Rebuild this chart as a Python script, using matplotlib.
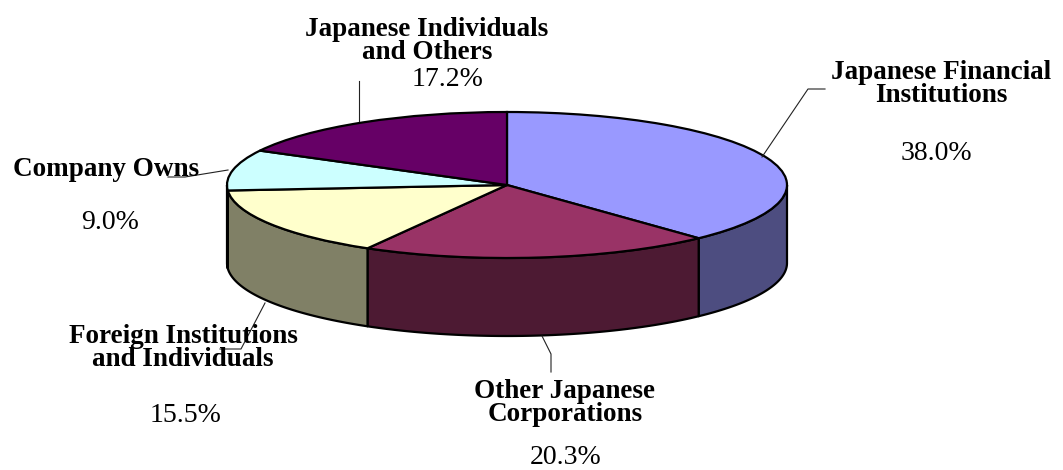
import numpy as np
import matplotlib
matplotlib.use("Agg")
import matplotlib.pyplot as plt
from matplotlib.colors import to_rgb

plt.rcParams["font.family"] = ["Liberation Serif", "DejaVu Serif"]

# clockwise from 12 o'clock
categories = ["Japanese Financial\nInstitutions", "Other Japanese\nCorporations",
              "Foreign Institutions\nand Individuals", "Company Owns",
              "Japanese Individuals\nand Others"]
values = [38.0, 20.3, 15.5, 9.0, 17.2]
percent_labels = ["38.0%", "20.3%", "15.5%", "9.0%", "17.2%"]
colors = ["#9999FF", "#993366", "#FFFFCC", "#CCFFFF", "#660066"]

W, H = 1063, 470
cx, cy, rx, ry, depth = 507, 185, 280, 73, 78

# pixel positions of the labels and leader lines
name_pos = [(941, 84), (565, 403), (183, 348), (106, 169), (427, 41)]
pct_pos = [(936, 153), (566, 457), (186, 415), (110, 223), (448, 80)]
leaders = [
    [(825, 89), (808, 89), (762, 157)],
    [(542, 336), (551, 354), (551, 372)],
    [(220, 349), (241, 349), (265, 303)],
    [(168, 177), (185, 177), (228, 170)],
    [(359, 81), (359, 121)],
]

fig = plt.figure(figsize=(W / 100, H / 100), dpi=100)
ax = fig.add_axes([0, 0, 1, 1])

# side wall, the part of each slice facing the viewer
d = depth / ry
edges = np.cumsum([0] + values) / sum(values) * 360
for i in range(len(values)):
    a0, a1 = max(edges[i], 90), min(edges[i + 1], 270)
    if a1 <= a0:
        continue
    t = np.radians(np.linspace(a0, a1, 100))
    xs = np.sin(t)
    ys = np.cos(t)
    dark = tuple(c * 0.5 for c in to_rgb(colors[i]))
    ax.fill(np.r_[xs, xs[::-1]], np.r_[ys, ys[::-1] - d], facecolor=dark,
            edgecolor="black", linewidth=1.6, zorder=0.5, joinstyle="round")

ax.pie(values, colors=colors, startangle=90, counterclock=False, radius=1,
       wedgeprops=dict(edgecolor="black", linewidth=1.6))
ax.set_aspect("auto")
ax.set_xlim(-cx / rx, (W - cx) / rx)
ax.set_ylim((cy - H) / ry, cy / ry)
ax.axis("off")

for pts in leaders:
    px = [p[0] / W for p in pts]
    py = [1 - p[1] / H for p in pts]
    ax.plot(px, py, color="#222222", linewidth=0.8, transform=fig.transFigure,
            clip_on=False, zorder=3)

for name, pos in zip(categories, name_pos):
    fig.text(pos[0] / W, 1 - pos[1] / H, name, ha="center", va="center",
             fontsize=19.5, fontweight="bold", linespacing=0.94, color="black")
for pct, pos in zip(percent_labels, pct_pos):
    fig.text(pos[0] / W, 1 - pos[1] / H, pct, ha="center", va="center",
             fontsize=20, color="black")

fig.savefig("out.png", dpi=100, facecolor="white")
